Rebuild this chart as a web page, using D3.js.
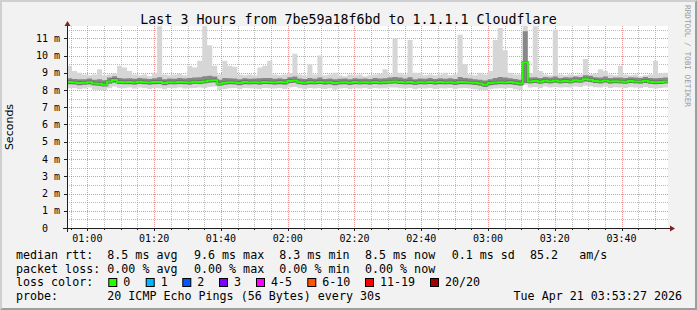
<!DOCTYPE html>
<html>
<head>
<meta charset="utf-8">
<script src="https://cdn.jsdelivr.net/npm/d3@7"></script>
<style>
  body { margin: 0; background: #f2f2f2; }
  text { font-family: "DejaVu Sans Mono", monospace; fill: #000; }
</style>
</head>
<body>
<script>
// one column per 90 s, 120 columns = 3 hours
const median = [
  8.46,8.44,8.40,8.42,8.45,8.38,8.36,8.31,8.50,8.58,
  8.47,8.45,8.46,8.44,8.48,8.45,8.43,8.46,8.47,8.41,
  8.45,8.44,8.47,8.45,8.44,8.48,8.47,8.50,8.55,8.57,
  8.36,8.42,8.45,8.44,8.40,8.46,8.44,8.45,8.43,8.47,
  8.45,8.44,8.46,8.43,8.52,8.55,8.45,8.42,8.46,8.44,
  8.47,8.43,8.45,8.40,8.44,8.45,8.42,8.46,8.44,8.45,
  8.43,8.47,8.44,8.45,8.48,8.50,8.47,8.44,8.46,8.42,
  8.45,8.44,8.47,8.43,8.46,8.44,8.45,8.42,8.46,8.45,
  8.44,8.42,8.38,8.31,8.40,8.43,8.45,8.44,8.46,8.42,
  8.38,9.60,8.50,8.52,8.48,8.53,8.50,8.55,8.49,8.52,
  8.50,8.56,8.54,8.63,8.60,8.52,8.50,8.55,8.49,8.51,
  8.50,8.48,8.52,8.50,8.49,8.53,8.48,8.45,8.47,8.50
];
const lo = [
  8.10,8.12,8.05,8.08,8.15,8.02,8.00,7.98,8.10,8.20,
  8.12,8.10,8.14,8.08,8.15,8.12,8.06,8.12,8.10,8.05,
  8.12,8.10,8.14,8.08,8.10,8.12,8.15,8.12,8.18,8.20,
  8.00,8.06,8.10,8.12,8.05,8.12,8.10,8.08,8.06,8.12,
  8.10,8.08,8.12,8.06,8.15,8.18,8.10,8.04,8.12,8.08,
  8.12,8.06,8.10,8.02,8.08,8.12,8.05,8.10,8.08,8.12,
  8.06,8.12,8.08,8.10,8.14,8.15,8.10,8.08,8.12,8.05,
  8.10,8.08,8.12,8.06,8.10,8.08,8.12,8.05,8.10,8.12,
  8.08,8.05,8.00,7.95,8.04,8.08,8.10,8.08,8.12,8.05,
  8.00,8.30,8.15,8.18,8.12,8.20,8.15,8.18,8.14,8.16,
  8.15,8.20,8.18,8.25,8.22,8.16,8.15,8.20,8.12,8.16,
  8.14,8.12,8.16,8.15,8.12,8.18,8.12,8.08,8.12,8.15
];
const q1 = [
  8.34,8.32,8.28,8.30,8.33,8.26,8.24,8.20,8.36,8.44,
  8.35,8.33,8.34,8.31,8.36,8.33,8.30,8.34,8.35,8.28,
  8.33,8.32,8.35,8.33,8.31,8.36,8.35,8.38,8.42,8.44,
  8.24,8.30,8.33,8.32,8.27,8.34,8.32,8.33,8.30,8.35,
  8.33,8.31,8.34,8.30,8.40,8.42,8.33,8.29,8.34,8.32,
  8.35,8.30,8.33,8.27,8.32,8.33,8.29,8.34,8.32,8.33,
  8.30,8.35,8.32,8.33,8.36,8.38,8.35,8.32,8.34,8.29,
  8.33,8.32,8.35,8.30,8.34,8.32,8.33,8.29,8.34,8.33,
  8.32,8.29,8.25,8.18,8.27,8.31,8.33,8.32,8.34,8.29,
  8.25,8.40,8.38,8.40,8.36,8.41,8.38,8.42,8.37,8.40,
  8.38,8.44,8.42,8.50,8.47,8.40,8.38,8.43,8.36,8.39,
  8.38,8.36,8.40,8.38,8.36,8.41,8.36,8.33,8.35,8.38
];
const q3 = [
  8.68,8.64,8.62,8.63,8.66,8.60,8.62,8.56,8.72,8.80,
  8.70,8.66,8.68,8.65,8.70,8.66,8.64,8.68,8.74,8.62,
  8.66,8.65,8.70,8.66,8.70,8.72,8.74,8.80,8.82,8.78,
  8.60,8.70,8.68,8.66,8.62,8.68,8.65,8.66,8.68,8.70,
  8.70,8.65,8.68,8.64,8.74,8.78,8.66,8.64,8.70,8.65,
  8.72,8.64,8.66,8.62,8.65,8.66,8.63,8.68,8.65,8.66,
  8.64,8.70,8.66,8.68,8.72,8.76,8.72,8.66,8.74,8.63,
  8.66,8.65,8.70,8.64,8.68,8.65,8.68,8.64,8.76,8.70,
  8.66,8.63,8.60,8.55,8.62,8.70,8.76,8.72,8.68,8.64,
  8.60,11.40,8.72,8.74,8.70,8.75,8.72,8.78,8.70,8.74,
  8.72,8.78,8.76,8.85,8.82,8.74,8.72,8.78,8.70,8.73,
  8.72,8.70,8.74,8.72,8.70,8.75,8.70,8.68,8.70,8.72
];
const hi = [
  9.40,9.10,9.00,8.90,8.85,8.90,9.20,8.85,8.90,8.95,
  9.40,9.30,9.10,8.90,8.85,8.90,8.80,9.00,11.70,8.90,
  8.85,8.90,8.95,8.85,9.40,9.30,9.70,11.70,10.60,9.40,
  8.90,9.70,9.40,9.35,8.90,8.85,8.90,8.85,9.30,9.40,
  9.70,8.90,8.85,8.90,8.95,10.10,8.90,8.85,9.50,8.90,
  10.00,8.85,8.90,9.00,8.85,8.80,8.90,8.85,8.90,8.80,
  8.85,8.90,8.95,9.20,8.90,11.00,9.00,8.90,10.90,9.00,
  9.00,8.85,8.90,8.85,8.90,9.00,8.85,8.90,11.20,9.50,
  8.90,8.85,9.00,8.90,9.10,10.90,11.60,10.30,9.00,8.90,
  8.90,11.75,8.95,11.70,9.10,8.90,8.85,11.50,8.90,8.85,
  8.90,8.85,8.90,9.80,8.90,8.95,9.20,9.10,8.90,8.85,
  9.40,8.90,8.85,8.90,8.80,8.85,8.90,9.70,8.95,9.00
];

const yTicks = [0,1,2,3,4,5,6,7,8,9,10,11];
const title = "Last 3 Hours from 7be59a18f6bd to 1.1.1.1 Cloudflare";
const rttItems = ["8.5 ms avg","9.6 ms max","8.3 ms min","8.5 ms now","0.1 ms sd","85.2","am/s"];
const lossItems = ["0.00 % avg","0.00 % max","0.00 % min","0.00 % now"];
const lossLabels = ["0","1","2","3","4-5","6-10","11-19","20/20"];
const lossColors = ["#26ff00","#00b8ff","#0059ff","#7e00ff","#ff00ff","#ff5500","#ff0000","#a10000"];
const probeText = "20 ICMP Echo Pings (56 Bytes) every 30s";
const stamp = "Tue Apr 21 03:53:27 2026";

const W = 697, H = 310;
const L = 67, R = 668, T = 26, B = 228;
const N = median.length;
const t0 = new Date(2026, 3, 21, 0, 53, 54);
const times = d3.range(N + 1).map(i => new Date(+t0 + i * 90000));
const tEnd = times[N];

const x = d3.scaleTime().domain([t0, tEnd]).range([L, R]);
const y = d3.scaleLinear().domain([0, (B - T) / 17.25]).range([B, T]);

const svg = d3.select("body").append("svg")
  .attr("width", W).attr("height", H);

// frame
svg.append("rect").attr("width", W).attr("height", H).attr("fill", "#f2f2f2");
svg.append("polygon").attr("points", `0,0 ${W},0 ${W-2},2 2,2 2,${H-2} 0,${H}`).attr("fill", "#cfcfcf");
svg.append("polygon").attr("points", `${W},0 ${W},${H} 0,${H} 2,${H-2} ${W-2},${H-2} ${W-2},2`).attr("fill", "#9e9e9e");

svg.append("rect").attr("x", L).attr("y", T).attr("width", R - L).attr("height", B - T).attr("fill", "#fff");

// grid
const gridG = svg.append("g").attr("shape-rendering", "crispEdges");
const minorT = d3.timeMinute.every(5).range(t0, tEnd).filter(d => d.getMinutes() % 20 !== 0);
const majorT = d3.timeMinute.every(20).range(t0, tEnd);
const minorY = d3.range(0.5, y.domain()[1], 1);
const majorY = d3.range(1, y.domain()[1], 1);

gridG.selectAll(".vmin").data(minorT).join("line")
  .attr("x1", d => Math.round(x(d)) + 0.5).attr("x2", d => Math.round(x(d)) + 0.5)
  .attr("y1", T).attr("y2", B)
  .attr("stroke", "rgba(143,143,143,0.6)").attr("stroke-dasharray", "1,1");
gridG.selectAll(".hmin").data(minorY).join("line")
  .attr("x1", L).attr("x2", R)
  .attr("y1", d => Math.round(y(d)) + 0.5).attr("y2", d => Math.round(y(d)) + 0.5)
  .attr("stroke", "rgba(143,143,143,0.6)").attr("stroke-dasharray", "1,1");
gridG.selectAll(".vmaj").data(majorT).join("line")
  .attr("x1", d => Math.round(x(d)) + 0.5).attr("x2", d => Math.round(x(d)) + 0.5)
  .attr("y1", T).attr("y2", B)
  .attr("stroke", "rgba(222,79,79,0.6)").attr("stroke-dasharray", "1,1");
gridG.selectAll(".hmaj").data(majorY).join("line")
  .attr("x1", L).attr("x2", R)
  .attr("y1", d => Math.round(y(d)) + 0.5).attr("y2", d => Math.round(y(d)) + 0.5)
  .attr("stroke", "rgba(222,79,79,0.6)").attr("stroke-dasharray", "1,1");

// smoke
svg.append("clipPath").attr("id", "plot")
  .append("rect").attr("x", L).attr("y", T).attr("width", R - L).attr("height", B - T);
const plot = svg.append("g").attr("clip-path", "url(#plot)");
const idx = d3.range(N + 1);
const at = (arr, i) => arr[Math.min(i, N - 1)];
const band = (a, b) => d3.area()
  .x(i => x(times[i])).y0(i => y(at(a, i))).y1(i => y(at(b, i)))
  .curve(d3.curveStepAfter);

plot.append("path").datum(idx).attr("d", band(lo, hi)).attr("fill", "#d6d6d6");
plot.append("path").datum(idx).attr("d", band(q1, q3)).attr("fill", "#888");

const medLine = d3.line()
  .x(i => x(times[i])).y(i => y(at(median, i)))
  .curve(d3.curveStepAfter);
plot.append("path").datum(idx).attr("d", medLine)
  .attr("fill", "none").attr("stroke", "#333").attr("stroke-width", 3).attr("opacity", 0.45);
plot.append("path").datum(idx).attr("d", medLine)
  .attr("fill", "none").attr("stroke", lossColors[0]).attr("stroke-width", 2);

// axes
const axisG = svg.append("g").attr("shape-rendering", "crispEdges").attr("stroke", "#1f1f1f");
axisG.selectAll(".ytk").data(yTicks).join("line")
  .attr("x1", L - 3).attr("x2", L)
  .attr("y1", d => Math.round(y(d)) + 0.5).attr("y2", d => Math.round(y(d)) + 0.5);
axisG.selectAll(".xtk").data(majorT).join("line")
  .attr("x1", d => Math.round(x(d)) + 0.5).attr("x2", d => Math.round(x(d)) + 0.5)
  .attr("y1", B).attr("y2", B + 3);
axisG.selectAll(".xtm").data(minorT).join("line")
  .attr("x1", d => Math.round(x(d)) + 0.5).attr("x2", d => Math.round(x(d)) + 0.5)
  .attr("y1", B).attr("y2", B + 2);
axisG.append("line").attr("x1", L - 4).attr("x2", R + 4).attr("y1", B + 0.5).attr("y2", B + 0.5);
axisG.append("line").attr("x1", L + 0.5).attr("x2", L + 0.5).attr("y1", B + 4).attr("y2", T - 3);
svg.append("polygon").attr("points", `${L-2.5},${T} ${L+3.5},${T} ${L+0.5},${T-5}`).attr("fill", "#801f1f");
svg.append("polygon").attr("points", `${R+2},${B-2.5} ${R+2},${B+3.5} ${R+7},${B+0.5}`).attr("fill", "#801f1f");

// tick labels
svg.append("g").selectAll("text").data(yTicks).join("text")
  .attr("x", d => 60 - 6.02 * (String(d).length + 2))
  .attr("y", d => y(d) + 3.6)
  .attr("font-size", 10)
  .text(d => d === 0 ? "0" : d + " m");
svg.append("g").selectAll("text").data(majorT).join("text")
  .attr("x", d => x(d)).attr("y", 242)
  .attr("text-anchor", "middle").attr("font-size", 10)
  .text(d3.timeFormat("%H:%M"));

// titles
svg.append("text").attr("x", 348.5).attr("y", 24).attr("text-anchor", "middle")
  .attr("font-size", 13.3).text(title);
svg.append("text").attr("transform", `translate(13,${(T + B) / 2}) rotate(-90)`)
  .attr("text-anchor", "middle").attr("font-size", 11)
  .style("font-family", "'DejaVu Sans', sans-serif").text("Seconds");
svg.append("text").attr("transform", "translate(685,56) rotate(90)")
  .attr("text-anchor", "middle").attr("font-size", 7.7)
  .style("fill", "#999").text("RRDTOOL / TOBI OETIKER");

// legend
const lg = svg.append("g").attr("font-size", 11.67);
const colX = [107.3, 194, 279.3, 365, 451.7, 530, 579.3];
lg.append("text").attr("x", 16).attr("y", 258.7).text("median rtt:");
lg.selectAll(".rtt").data(rttItems).join("text")
  .attr("x", (d, i) => colX[i]).attr("y", 258.7).text(d => d);
lg.append("text").attr("x", 16).attr("y", 272.5).text("packet loss:");
lg.selectAll(".loss").data(lossItems).join("text")
  .attr("x", (d, i) => colX[i]).attr("y", 272.5).text(d => d);
lg.append("text").attr("x", 16).attr("y", 286.3).text("loss color:");
const boxX = [108.3, 145.7, 182.3, 219, 256, 307.3, 365, 430];
lg.selectAll("rect").data(lossLabels).join("rect")
  .attr("x", (d, i) => boxX[i] + 0.5).attr("y", 278.5)
  .attr("width", 8).attr("height", 8)
  .attr("fill", (d, i) => lossColors[i]).attr("stroke", "#000");
lg.selectAll(".lc").data(lossLabels).join("text")
  .attr("x", (d, i) => boxX[i] + 15).attr("y", 286.3).text(d => d);
lg.append("text").attr("x", 16).attr("y", 300.1).text("probe:");
lg.append("text").attr("x", 107.3).attr("y", 300.1).text(probeText);
lg.append("text").attr("x", 682).attr("y", 300.1).attr("text-anchor", "end").text(stamp);
</script>
</body>
</html>
